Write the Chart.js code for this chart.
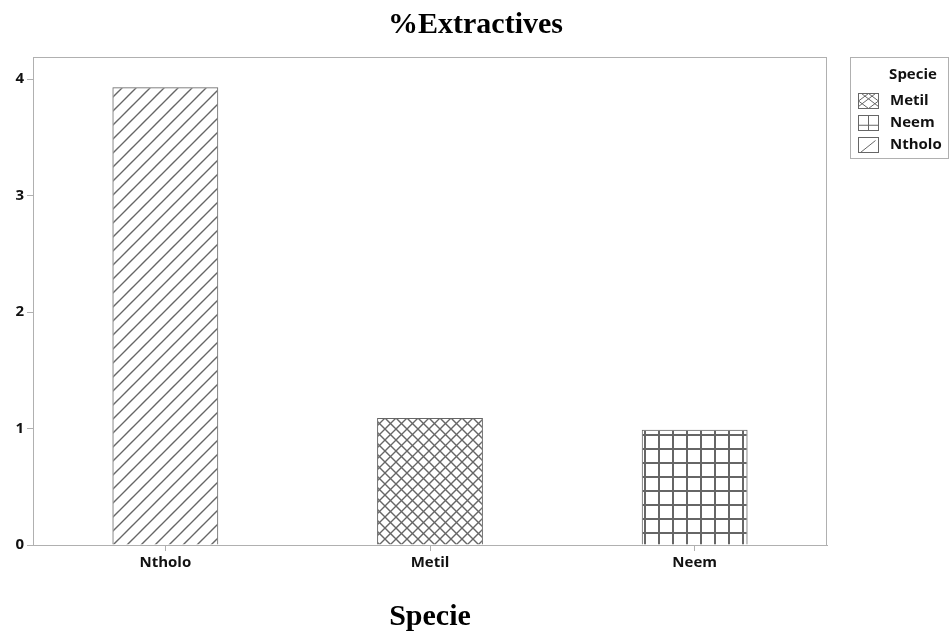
<!DOCTYPE html>
<html>
<head>
<meta charset="utf-8">
<script src="https://cdn.jsdelivr.net/npm/chart.js@4"></script>
<style>
  html, body { margin: 0; padding: 0; background: #fff; }
  #wrap { width: 951px; height: 637px; }
</style>
</head>
<body>
<div id="wrap"><canvas id="extractives" width="951" height="637"></canvas></div>
<script>
const categories = ["Ntholo", "Metil", "Neem"];
const values = [3.93, 1.09, 0.99];
const legendLabels = ["Metil", "Neem", "Ntholo"];
const yTicks = [0, 1, 2, 3, 4];

const SANS = "'Open Sans', sans-serif";
const SERIF = "'Liberation Serif', 'Times New Roman', serif";
const LINE = "#666";

function makeTile(size, draw){
  const c = document.createElement('canvas');
  c.width = size; c.height = size;
  const g = c.getContext('2d');
  g.strokeStyle = LINE;
  draw(g, size);
  return g.createPattern(c, 'repeat');
}

function slash(g, s){
  g.lineWidth = 1.4;
  g.beginPath();
  g.moveTo(0, s); g.lineTo(s, 0);
  g.moveTo(-s/2, s/2); g.lineTo(s/2, -s/2);
  g.moveTo(s/2, s*1.5); g.lineTo(s*1.5, s/2);
  g.stroke();
}

function cross(g, s){
  slash(g, s);
  g.beginPath();
  g.moveTo(0, 0); g.lineTo(s, s);
  g.moveTo(-s/2, s/2); g.lineTo(s/2, s*1.5);
  g.moveTo(s/2, -s/2); g.lineTo(s*1.5, s/2);
  g.stroke();
}

function grid(g, s){
  g.lineWidth = 2;
  g.beginPath();
  g.moveTo(1, 0); g.lineTo(1, s);
  g.moveTo(0, 1); g.lineTo(s, 1);
  g.stroke();
}

const patterns = {
  Ntholo: makeTile(14, slash),
  Metil: makeTile(11, cross),
  Neem: makeTile(14, grid)
};

// little legend keys, drawn big like the reference
const keys = {
  Metil(ctx, x, y, w, h){
    ctx.moveTo(x, y + h/2); ctx.lineTo(x + w/2, y); ctx.lineTo(x + w, y + h/2);
    ctx.lineTo(x + w/2, y + h); ctx.closePath();
    ctx.moveTo(x + 3, y); ctx.lineTo(x + w, y + h - 2);
    ctx.moveTo(x + w - 3, y); ctx.lineTo(x, y + h - 2);
  },
  Neem(ctx, x, y, w, h){
    ctx.moveTo(x + w/2, y); ctx.lineTo(x + w/2, y + h);
    ctx.moveTo(x, y + h*0.65); ctx.lineTo(x + w, y + h*0.65);
  },
  Ntholo(ctx, x, y, w, h){
    ctx.moveTo(x + 2, y + h); ctx.lineTo(x + w - 3, y + 3);
  }
};

// border round the plot area
const frame = {
  id: 'frame',
  beforeDatasetsDraw(chart){
    const {ctx, chartArea: a} = chart;
    ctx.save();
    ctx.strokeStyle = '#b0b0b0';
    ctx.lineWidth = 1;
    ctx.strokeRect(a.left + 0.5, a.top + 0.5, a.right - a.left - 1, a.bottom - a.top);
    ctx.restore();
  }
};

// boxed legend on the right
const boxLegend = {
  id: 'boxLegend',
  afterDraw(chart){
    const ctx = chart.ctx;
    const x = chart.chartArea.right + 23, y = chart.chartArea.top;
    ctx.save();
    ctx.strokeStyle = '#b0b0b0';
    ctx.lineWidth = 1;
    ctx.strokeRect(x + 0.5, y + 0.5, 98, 101);
    ctx.fillStyle = '#111';
    ctx.font = "bold 15px " + SANS;
    ctx.textBaseline = 'middle';
    ctx.textAlign = 'center';
    ctx.fillText('Specie', x + 63, y + 18);
    ctx.textAlign = 'left';
    legendLabels.forEach((name, i) => {
      const cy = y + 44 + i * 22;
      ctx.strokeStyle = LINE;
      ctx.lineWidth = 1;
      ctx.strokeRect(x + 8.5, cy - 7.5, 20, 15);
      ctx.beginPath();
      keys[name](ctx, x + 8.5, cy - 7.5, 20, 15);
      ctx.stroke();
      ctx.fillStyle = '#111';
      ctx.fillText(name, x + 40, cy);
    });
    ctx.restore();
  }
};

const data = {
  labels: categories,
  datasets: [{
    label: 'Specie',
    data: values,
    backgroundColor: categories.map(c => patterns[c]),
    borderColor: LINE,
    borderWidth: 1,
    barPercentage: 0.4,
    categoryPercentage: 1,
    yAxisID: 'y'
  }]
};

const tickFont = { family: SANS, size: 15, weight: 'bold' };

const config = {
  type: 'bar',
  data: data,
  plugins: [frame, boxLegend],
  options: {
    responsive: false,
    animation: false,
    layout: { padding: 0 },
    plugins: {
      legend: { display: false },
      tooltip: { enabled: false },
      title: {
        display: true,
        text: '%Extractives',
        color: '#000',
        font: { family: SERIF, size: 30, weight: 'bold' },
        padding: { top: 7, bottom: 14 }
      }
    },
    scales: {
      x: {
        grid: { display: true, drawOnChartArea: false, offset: false, tickLength: 6, color: '#b0b0b0' },
        border: { color: '#b0b0b0' },
        ticks: { color: '#111', padding: 3, font: tickFont },
        title: {
          display: true,
          text: 'Specie',
          color: '#000',
          font: { family: SERIF, size: 30, weight: 'bold' },
          padding: { top: 0, bottom: 2 }
        },
        afterFit(scale){ scale.height = 92; }
      },
      y: {
        min: 0,
        max: 4.19,
        grid: { display: true, drawOnChartArea: false, tickLength: 6, color: '#b0b0b0' },
        border: { color: '#b0b0b0' },
        afterBuildTicks(scale){ scale.ticks = yTicks.map(v => ({ value: v })); },
        ticks: { color: '#111', padding: 3, includeBounds: false, font: tickFont },
        afterFit(scale){ scale.width = 33; }
      },
      // empty right-hand axis: keeps room for the legend box
      side: {
        position: 'right',
        min: 0,
        max: 4.19,
        grid: { display: false },
        border: { display: false },
        ticks: { display: false },
        afterFit(scale){ scale.width = 124; }
      }
    }
  }
};

const myChart = new Chart(document.getElementById('extractives'), config);
</script>
</body>
</html>
